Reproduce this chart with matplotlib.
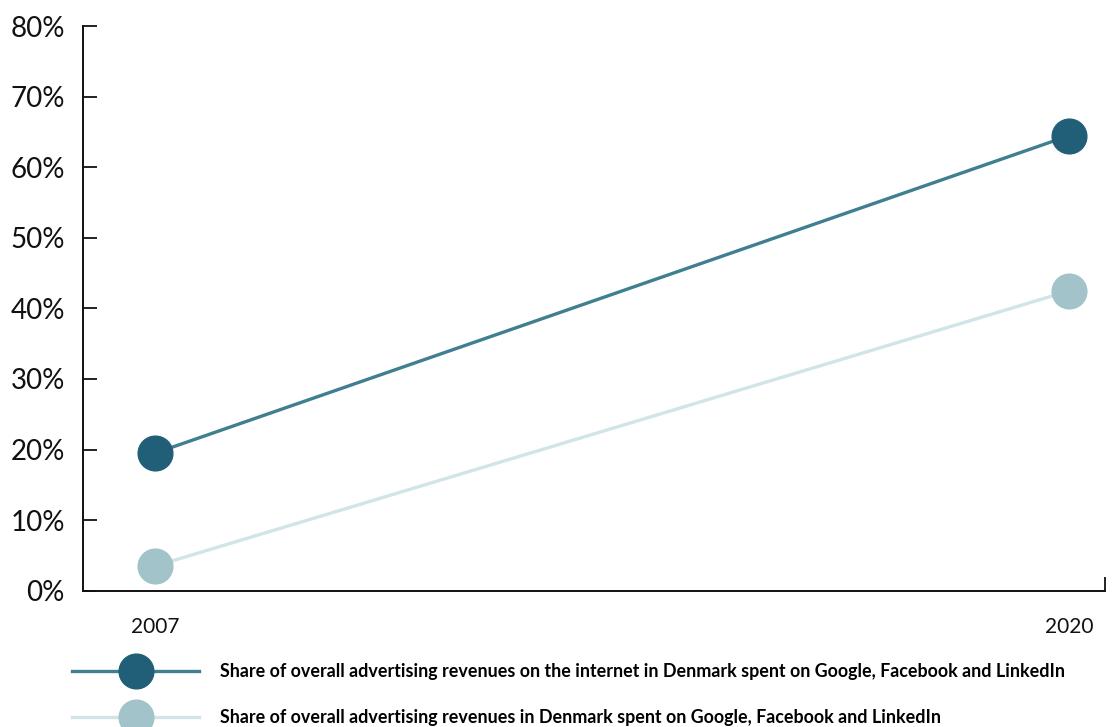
import matplotlib
matplotlib.use("Agg")
import matplotlib.pyplot as plt
from matplotlib.ticker import FuncFormatter

plt.rcParams['font.family'] = ['Lato', 'DejaVu Sans']

years = ["2007", "2020"]
internet_share = [19.5, 64.5]
overall_share = [3.5, 42.5]
series_labels = [
    "Share of overall advertising revenues on the internet in Denmark spent on Google, Facebook and LinkedIn",
    "Share of overall advertising revenues in Denmark spent on Google, Facebook and LinkedIn",
]
y_ticks = [0, 10, 20, 30, 40, 50, 60, 70, 80]

line_colors = ["#3f7f8f", "#d1e4e7"]
marker_colors = ["#215f79", "#a2c3c9"]

fig = plt.figure(figsize=(11.14, 7.27), dpi=100)
ax = fig.add_axes([0.0745, 0.1875, 0.9175, 0.7765])

x = list(range(len(years)))
handles = []
for vals, lc, mc, lab in zip([internet_share, overall_share], line_colors, marker_colors, series_labels):
    h, = ax.plot(x, vals, color=lc, lw=2.4, marker='o', markersize=25,
                 markerfacecolor=mc, markeredgecolor=mc, label=lab, clip_on=False, zorder=3)
    handles.append(h)

xmin, xmax = -0.079, 1.039
ax.set_xlim(xmin, xmax)
ax.set_ylim(0, 80)
ax.set_xticks(x)
ax.set_xticklabels(years)
ax.set_xticks([xmax], minor=True)
ax.set_yticks(y_ticks)
ax.yaxis.set_major_formatter(FuncFormatter(lambda v, p: f"{int(v)}%"))

for s in ["top", "right"]:
    ax.spines[s].set_visible(False)
for s in ["left", "bottom"]:
    ax.spines[s].set_linewidth(1.4)
    ax.spines[s].set_color("#111111")

ax.tick_params(axis='y', direction='in', length=10, width=1.3, color="#111111",
               labelsize=20, pad=13, labelcolor="#111111")
ax.tick_params(axis='x', which='major', length=0, labelsize=15, pad=19, labelcolor="#111111")
ax.tick_params(axis='x', which='minor', direction='in', length=10, width=1.3, color="#111111")

fig.legend(handles=handles, loc='upper left', bbox_to_anchor=(0.065, 0.088),
           frameon=False, handlelength=7.1, handletextpad=1.15,
           labelspacing=1.65, borderpad=0, borderaxespad=0,
           prop={'family': ['Lato', 'DejaVu Sans'], 'weight': 'bold', 'size': 12.85})

fig.savefig("out.png", dpi=100)
